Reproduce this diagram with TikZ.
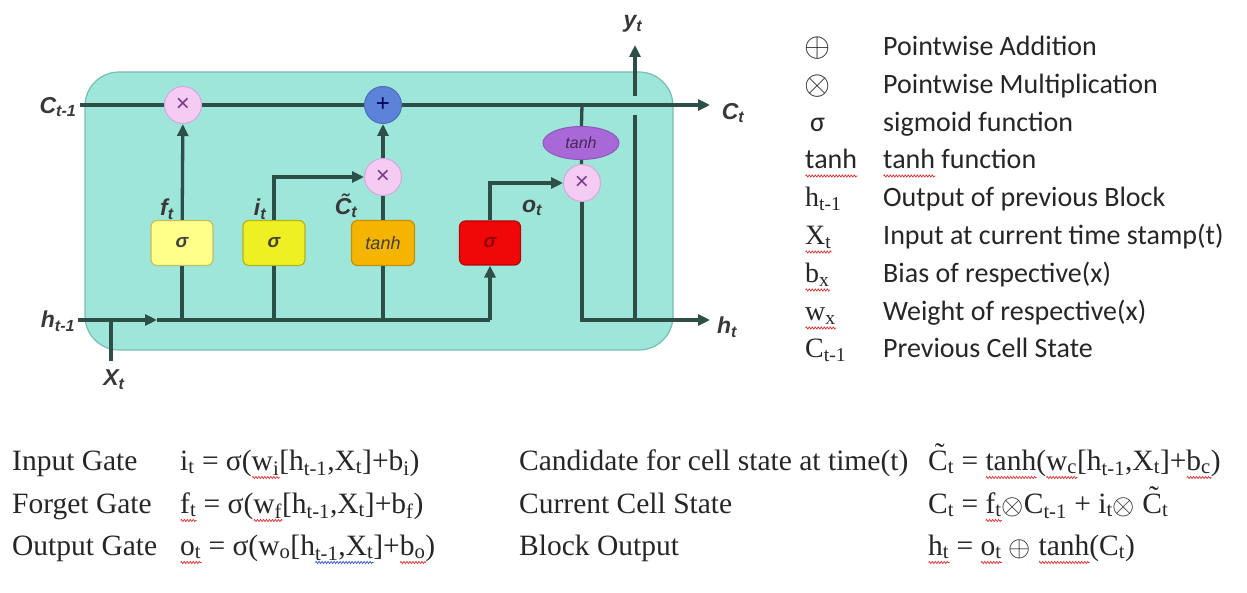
\documentclass[tikz,border=0pt]{standalone}
\usepackage{fontspec}
\setmainfont{Liberation Serif}
\newfontfamily\lblfont{Liberation Sans}
\newfontfamily\legfont{Carlito}
\usetikzlibrary{arrows.meta,shapes.geometric,calc,decorations.pathmorphing}
\definecolor{cellbg}{HTML}{9EE6DA}
\definecolor{cellbd}{HTML}{78BFB3}
\definecolor{wirec}{HTML}{2D4F48}
\definecolor{pinkop}{HTML}{F3CBF3}
\definecolor{pinkbd}{HTML}{D9A6D9}
\definecolor{xcol}{HTML}{7A3A8A}
\definecolor{blueop}{HTML}{5C82D9}
\definecolor{yel1}{HTML}{FFFF8A}
\definecolor{yel2}{HTML}{EEF023}
\definecolor{orng}{HTML}{F4B400}
\definecolor{redg}{HTML}{F00808}
\definecolor{purp}{HTML}{A968D8}
\definecolor{txt}{HTML}{262626}
\definecolor{spellred}{HTML}{E03030}
\definecolor{gramblue}{HTML}{3050D0}
\newlength\spellwd
\newcommand\spellmark[2][spellred]{{\setbox0\hbox{#2}\spellwd=\wd0\rlap{\tikz[baseline=0pt]\draw[draw=#1, line width=0.7pt, decorate, decoration={zigzag, amplitude=1.1pt, segment length=3pt}] (0pt,-7.5pt) -- (\spellwd,-7.5pt);}\box0}}
\newcommand\bigop[2]{\raisebox{-0.1ex}{\scalebox{#1}{$#2$}}}
\tikzset{
  wire/.style={draw=wirec, line width=3.3pt},
  arr/.style={-{Triangle[length=12pt,width=11pt]}},
  opnode/.style={circle, minimum size=37pt, inner sep=0pt, fill=pinkop, draw=pinkbd, line width=1pt,
     text=xcol, font=\lblfont\fontsize{24}{24}\selectfont},
  gatebox/.style={rectangle, rounded corners=6pt, minimum width=62pt, minimum height=45pt, line width=1.2pt,
     inner sep=0pt, font=\lblfont\bfseries\itshape\fontsize{19}{19}\selectfont, text=black!75},
  lbl/.style={font=\lblfont\bfseries\itshape\fontsize{23}{26}\selectfont, text=black!78, inner sep=0pt},
  legsym/.style={anchor=west, inner sep=0pt, text=txt, text height=20pt, text depth=7pt},
  legtxt/.style={anchor=west, inner sep=0pt, text=txt, text height=20pt, text depth=7pt, font=\legfont\fontsize{28}{30}\selectfont},
  eqtxt/.style={anchor=west, inner sep=0pt, text=txt, text height=21pt, text depth=7pt, font=\fontsize{29.5}{32}\selectfont},
}
\begin{document}
\begin{tikzpicture}[x=1pt,y=-1pt]
\useasboundingbox (0,0) rectangle (1247,593);
\fill[white] (0,0) rectangle (1247,593);
% cell
\draw[fill=cellbg, draw=cellbd, line width=1.2pt, rounded corners=34pt] (85,72) rectangle (673,350);

% coordinates
\coordinate (cin) at (80,105);
\coordinate (cout) at (710,105);
\coordinate (hin) at (78,320);
\coordinate (harr) at (157,320);
\coordinate (hend) at (490,320);
\coordinate (hout) at (710,320);
\coordinate (xin) at (111,361);
\coordinate (xj) at (111,320);
\coordinate (fj) at (182,320);
\coordinate (ij) at (274,320);
\coordinate (cj) at (383,320);
\coordinate (tj) at (582,105);
\coordinate (yj) at (635,320);
\coordinate (yb) at (635,115);
\coordinate (ya) at (635,96);
\coordinate (ytop) at (635,45);

% nodes
\node[opnode] (m1) at (183,105) {×};
\node[opnode, fill=blueop, draw=blueop!85!black, text=blue!35!black] (pl) at (383,105) {+};
\node[opnode] (m2) at (383,177) {×};
\node[opnode] (m3) at (582,183) {×};
\node[gatebox, fill=yel1, draw=yel1!75!black] (fg) at (182,243) {σ};
\node[gatebox, fill=yel2, draw=yel2!75!black] (ig) at (274,243) {σ};
\node[gatebox, fill=orng, draw=orng!80!black, minimum width=63pt, font=\lblfont\itshape\fontsize{18}{18}\selectfont] (cg) at (383,243) {tanh};
\node[gatebox, fill=redg, draw=redg!75!black, minimum width=61pt, minimum height=44pt, text=red!55!black] (og) at (490,243) {σ};
\node[ellipse, fill=purp, draw=purp!85!black, line width=1pt, minimum width=76pt, minimum height=33pt, inner sep=0pt,
      font=\lblfont\itshape\fontsize{16}{16}\selectfont, text=purp!40!black] (th) at (581,143) {tanh};

% wires
\draw[wire] (cin) -- (m1);
\draw[wire] (m1) -- (pl);
\draw[wire, arr] (pl) -- (cout);
\draw[wire, arr] (hin) -- (harr);
\draw[wire] (harr) -- (hend);
\draw[wire] (xin) -- (xj);
\draw[wire] (fj) -- (fg);
\draw[wire, arr] (fg) -- (m1);
\draw[wire] (ij) -- (ig);
\draw[wire, arr] (ig.north) |- (m2);
\draw[wire] (cj) -- (cg);
\draw[wire] (cg) -- (m2);
\draw[wire, arr] (m2) -- (pl);
\draw[wire, arr] (hend) -- (og);
\draw[wire, arr] (og.north) |- (m3);
\draw[wire] (tj) -- (th);
\draw[wire] (th) -- (m3);
\draw[wire, arr] (m3) |- (hout);
\draw[wire] (yj) -- (yb);
\draw[wire, arr] (ya) -- (ytop);

% labels
\node[lbl] (lc0) at (58,107) {C\textsubscript{t-1}};
\node[lbl] (lc1) at (733,113) {C\textsubscript{t}};
\node[lbl] (lh0) at (58,321) {h\textsubscript{t-1}};
\node[lbl] (lh1) at (727,327) {h\textsubscript{t}};
\node[lbl] (lx) at (114,380) {X\textsubscript{t}};
\node[lbl] (ly) at (633,24) {y\textsubscript{t}};
\node[lbl] (lf) at (167,209) {f\textsubscript{t}};
\node[lbl] (li) at (260,209) {i\textsubscript{t}};
\node[lbl] (lct) at (346,206) {\~{C}\textsubscript{t}};
\node[lbl] (lo) at (532,208) {o\textsubscript{t}};

% legend
\node[legsym, font=\fontsize{28}{30}\selectfont] (s1) at (804,49) {\bigop{1.35}{\oplus}};
\node[legsym, font=\fontsize{28}{30}\selectfont] (s2) at (804,87) {\bigop{1.35}{\otimes}};
\node[legsym, font=\legfont\fontsize{28}{30}\selectfont] (s3) at (810,125) {σ};
\node[legsym, font=\legfont\fontsize{28}{30}\selectfont] (s4) at (805,162) {\spellmark{tanh}};
\node[legsym, font=\fontsize{28}{30}\selectfont] (s5) at (805,200) {h\textsubscript{t-1}};
\node[legsym, font=\fontsize{28}{30}\selectfont] (s6) at (805,238) {\spellmark{X\textsubscript{t}}};
\node[legsym, font=\fontsize{28}{30}\selectfont] (s7) at (805,276) {\spellmark{b\textsubscript{x}}};
\node[legsym, font=\fontsize{28}{30}\selectfont] (s8) at (805,314) {\spellmark{w\textsubscript{x}}};
\node[legsym, font=\fontsize{28}{30}\selectfont] (s9) at (805,351) {C\textsubscript{t-1}};
\node[legtxt] (t1) at (883,49) {Pointwise Addition};
\node[legtxt] (t2) at (883,87) {Pointwise Multiplication};
\node[legtxt] (t3) at (883,125) {sigmoid function};
\node[legtxt] (t4) at (883,162) {\spellmark{tanh} function};
\node[legtxt] (t5) at (883,200) {Output of previous Block};
\node[legtxt] (t6) at (883,238) {Input at current time stamp(t)};
\node[legtxt] (t7) at (883,276) {Bias of respective(x)};
\node[legtxt] (t8) at (883,314) {Weight of respective(x)};
\node[legtxt] (t9) at (883,351) {Previous Cell State};

% equations
\node[eqtxt] (e1l) at (12,463) {Input Gate};
\node[eqtxt] (e2l) at (12,506) {Forget Gate};
\node[eqtxt] (e3l) at (12,548) {Output Gate};
\node[eqtxt] (e1) at (180,463) {i\textsubscript{t} = σ(\spellmark{w\textsubscript{i}}[h\textsubscript{t-1},X\textsubscript{t}]+b\textsubscript{i})};
\node[eqtxt] (e2) at (180,506) {\spellmark{f\textsubscript{t}} = σ(\spellmark{w\textsubscript{f}}[h\textsubscript{t-1},X\textsubscript{t}]+b\textsubscript{f})};
\node[eqtxt] (e3) at (180,548) {\spellmark{o\textsubscript{t}} = σ(w\textsubscript{o}[h\spellmark[gramblue]{\textsubscript{t-1},X\textsubscript{t}}]+\spellmark{b\textsubscript{o}})};
\node[eqtxt] (e4l) at (519,463) {Candidate for cell state at time(t)};
\node[eqtxt] (e5l) at (519,506) {Current Cell State};
\node[eqtxt] (e6l) at (519,548) {Block Output};
\node[eqtxt] (e4) at (928,463) {\~{C}\textsubscript{t} = \spellmark{tanh}(\spellmark{w\textsubscript{c}}[h\textsubscript{t-1},X\textsubscript{t}]+\spellmark{b\textsubscript{c}})};
\node[eqtxt] (e5) at (928,506) {C\textsubscript{t} = \spellmark{f\textsubscript{t}}\bigop{1.15}{\otimes}C\textsubscript{t-1} + i\textsubscript{t}\bigop{1.15}{\otimes} \~{C}\textsubscript{t}};
\node[eqtxt] (e6) at (928,548) {\spellmark{h\textsubscript{t}} = \spellmark{o\textsubscript{t}} \bigop{1.15}{\oplus} \spellmark{tanh}(C\textsubscript{t})};
\end{tikzpicture}
\end{document}
